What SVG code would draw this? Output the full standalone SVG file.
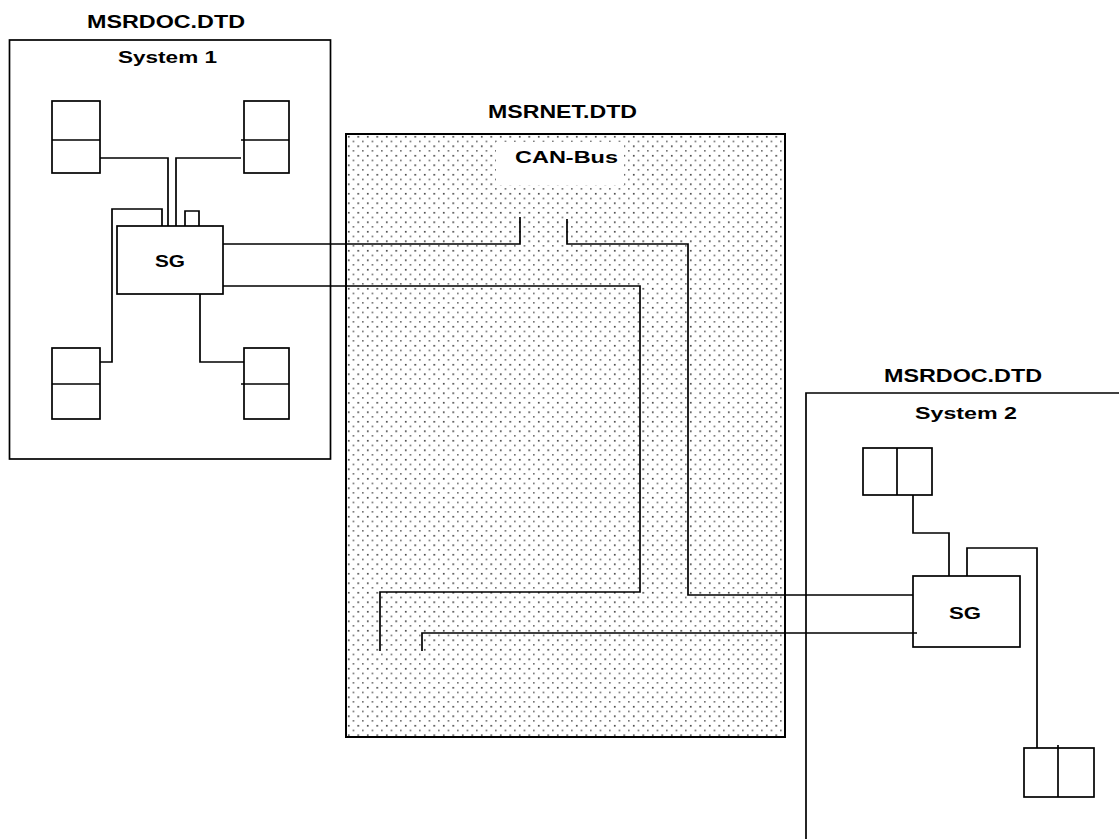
<svg xmlns="http://www.w3.org/2000/svg" width="1119" height="839" viewBox="0 0 1119 839">
<style>
.ln{fill:none;stroke:#000;stroke-width:1.7}
.bx{fill:#fff;stroke:#000;stroke-width:1.7}
.t{font-family:"Liberation Sans",Arial,sans-serif;font-weight:bold;fill:#000;text-anchor:middle}
.h{font-size:18px}
.s{font-size:17px}
.d{fill:#1a1a1a}
</style>
<defs>
<pattern id="dots" x="346" y="134" width="9.5" height="9.5" patternUnits="userSpaceOnUse">
<rect class="d" x="2" y="2" width="1.5" height="1.5"/>
<rect class="d" x="6.75" y="6.75" width="1.3" height="1.3"/>
</pattern>
</defs>
<rect width="1119" height="839" fill="#fff"/>

<g id="system1">
<text class="t h" x="166" y="28" textLength="158" lengthAdjust="spacingAndGlyphs">MSRDOC.DTD</text>
<rect class="bx" x="9.5" y="40" width="321" height="419"/>
<text class="t s" x="167.5" y="63" textLength="99" lengthAdjust="spacingAndGlyphs">System 1</text>
</g>

<g id="canbus">
<text class="t h" x="562.5" y="118" textLength="149" lengthAdjust="spacingAndGlyphs">MSRNET.DTD</text>
<rect x="346" y="134" width="439" height="603" fill="url(#dots)" stroke="#000" stroke-width="2"/>
<rect x="496" y="142" width="128" height="43" fill="#fff"/>
<text class="t s" x="566.5" y="163" textLength="103" lengthAdjust="spacingAndGlyphs">CAN-Bus</text>
</g>

<g id="system2">
<text class="t h" x="963" y="382" textLength="158" lengthAdjust="spacingAndGlyphs">MSRDOC.DTD</text>
<polyline class="ln" points="806,839 806,393 1119,393"/>
<text class="t s" x="966" y="419" textLength="102" lengthAdjust="spacingAndGlyphs">System 2</text>
</g>

<g id="s1-box-tl">
<rect class="bx" x="52" y="101" width="48" height="72"/>
<line class="ln" x1="52" y1="140" x2="100" y2="140"/>
</g>
<g id="s1-box-tr">
<rect class="bx" x="244" y="101" width="45" height="72"/>
<line class="ln" x1="241" y1="140" x2="289" y2="140"/>
</g>
<g id="s1-box-bl">
<rect class="bx" x="52" y="348" width="48" height="71"/>
<line class="ln" x1="52" y1="384" x2="100" y2="384"/>
</g>
<g id="s1-box-br">
<rect class="bx" x="244" y="348" width="45" height="71"/>
<line class="ln" x1="241" y1="384" x2="289" y2="384"/>
</g>
<g id="s1-sg">
<rect class="bx" x="117" y="226" width="106" height="68"/>
<text class="t s" x="170" y="267" textLength="30" lengthAdjust="spacingAndGlyphs">SG</text>
</g>

<g id="s2-box-top">
<rect class="bx" x="863" y="448" width="69" height="47"/>
<line class="ln" x1="897" y1="448" x2="897" y2="495"/>
</g>
<g id="s2-box-bottom">
<rect class="bx" x="1024" y="748" width="70" height="49"/>
<line class="ln" x1="1058" y1="745" x2="1058" y2="797"/>
</g>
<g id="s2-sg">
<rect class="bx" x="913" y="576" width="107" height="71"/>
<text class="t s" x="965" y="619" textLength="32" lengthAdjust="spacingAndGlyphs">SG</text>
</g>

<g id="connectors">
<polyline class="ln" points="100,158 168,158 168,226"/>
<polyline class="ln" points="241,158 176,158 176,226"/>
<polyline class="ln" points="185,226 185,211 199,211 199,226"/>
<polyline class="ln" points="100,362 112,362 112,209 162,209 162,226"/>
<polyline class="ln" points="200,294 200,362 244,362"/>
<polyline class="ln" points="223,244 520,244 520,217"/>
<polyline class="ln" points="567,219 567,244 688,244 688,595 913,595"/>
<polyline class="ln" points="223,286 640,286 640,592 380,592 380,651" stroke-width="2.2"/>
<polyline class="ln" points="422,651 422,633 917,633"/>
<polyline class="ln" points="913,495 913,533 949,533 949,576"/>
<polyline class="ln" points="967,576 967,548 1037,548 1037,748"/>
</g>
</svg>
